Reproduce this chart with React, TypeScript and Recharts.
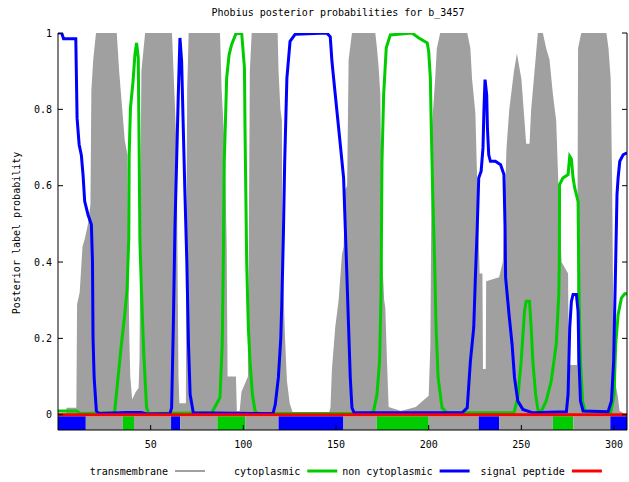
import { Area, ComposedChart, Line, ReferenceArea, XAxis, YAxis } from "recharts";

const mono = "'DejaVu Sans Mono', monospace";

const seqLength = 307;
const xTicks = [50, 100, 150, 200, 250, 300];
const yTicks = [0, 0.2, 0.4, 0.6, 0.8, 1];

// posterior probabilities, [residue, probability]
const transmembrane: [number, number][] = [
  [0, 0.005], [4.5, 0.005], [4.6, 0.018], [9.9, 0.018], [10.3, 0.29], [11.7, 0.32], [13.2, 0.44],
  [14.4, 0.46], [16.2, 0.5], [17.5, 0.55], [18, 0.85], [19, 0.93], [20.5, 1], [31.7, 1], [33, 0.9],
  [35, 0.78], [36, 0.72], [37.5, 0.68], [37.8, 0.45], [38.5, 0.2], [39, 0.1], [40, 0.04], [42, 0.06],
  [43.5, 0.07], [44, 0.15], [44.5, 0.6], [45, 0.9], [47, 1], [61.5, 1], [63, 0.82], [64, 0.69],
  [64.5, 0.4], [65, 0.1], [65.5, 0.03], [69, 0.03], [69.3, 0.5], [69.7, 0.85], [70.5, 1], [87.4, 1],
  [88.3, 0.85], [90, 0.69], [91, 0.45], [91.5, 0.1], [96, 0.1], [96.5, 0.01], [98, 0.01], [99, 0.06],
  [102.5, 0.1], [103, 0.5], [103.5, 0.9], [104.5, 1], [118.5, 1], [119, 0.9], [120, 0.8], [120.8, 0.77],
  [121, 0.5], [121.5, 0.35], [122.5, 0.2], [123.5, 0.09], [125, 0.03], [127, 0], [146, 0], [147, 0.018],
  [147.8, 0.12], [149.6, 0.23], [151.4, 0.3], [153.2, 0.42], [154.1, 0.44], [155, 0.59], [156, 0.6],
  [156.8, 0.93], [158.6, 1], [171.2, 1], [172.1, 0.96], [173, 0.91], [173.9, 0.84], [174.5, 0.6],
  [175, 0.4], [176, 0.3], [176.6, 0.28], [177.5, 0.14], [178.4, 0.02], [185, 0.01], [193, 0.02],
  [200, 0.05], [200.9, 0.18], [201.7, 0.75], [203.5, 0.88], [204.4, 0.96], [206.2, 1], [220.8, 1],
  [222.5, 0.96], [223.4, 0.88], [225.2, 0.79], [226.5, 0.55], [227.5, 0.37], [229, 0.37], [229.3, 0.12],
  [230.8, 0.12], [231, 0.35], [238, 0.36], [240, 0.4], [241, 0.55], [242, 0.7], [243.5, 0.8], [246, 0.9],
  [247.6, 0.946], [250, 0.88], [251.7, 0.77], [252.6, 0.71], [254.4, 0.71], [255.3, 0.8], [257.1, 0.9],
  [258.9, 1], [261.6, 1], [263.4, 0.96], [265.2, 0.93], [267, 0.84], [268.8, 0.77], [270, 0.6],
  [271.7, 0.4], [275.2, 0.37], [275.6, 0.13], [280, 0.13], [280.6, 0.96], [282.3, 1], [295.9, 1],
  [297, 0.96], [298.2, 0.88], [299, 0.6], [299.5, 0.3], [300, 0.1], [302, 0.05], [303, 0.01], [307, 0],
];

const cytoplasmic: [number, number][] = [
  [0, 0.01], [10, 0.01], [12, 0.003], [30, 0.005], [30.6, 0.01], [32.4, 0.097], [34.2, 0.184],
  [36, 0.262], [37.3, 0.33], [38.2, 0.463], [38.4, 0.681], [39.1, 0.804], [40.5, 0.874], [41.5, 0.943],
  [42.4, 0.974], [43.3, 0.935], [43.8, 0.681], [44.2, 0.455], [45.1, 0.315], [46.3, 0.158], [47.8, 0.018],
  [49, 0.003], [83, 0.005], [87.4, 0.045], [88.6, 0.184], [89.2, 0.4], [89.7, 0.664], [90.5, 0.795],
  [91, 0.882], [92.3, 0.943], [93.7, 0.97], [95.9, 0.997], [99.1, 1], [100.6, 0.908], [100.9, 0.751],
  [101.8, 0.4], [102.7, 0.228], [103.6, 0.14], [104.9, 0.053], [106.3, 0.01], [108, 0.003], [168, 0.003],
  [170.3, 0.01], [172.1, 0.053], [173.5, 0.14], [174.3, 0.315], [174.8, 0.664], [175.7, 0.838],
  [177.1, 0.961], [179.3, 0.995], [191, 1], [194.7, 0.987], [199.2, 0.974], [200, 0.952], [200.9, 0.882],
  [201.4, 0.751], [202.2, 0.577], [203.2, 0.402], [204, 0.228], [205.1, 0.097], [207.2, 0.018],
  [209.9, 0.005], [246, 0.005], [248.1, 0.045], [249.9, 0.14], [251.7, 0.271], [252.6, 0.297],
  [254.4, 0.297], [255.3, 0.228], [256.2, 0.14], [257.7, 0.053], [258.9, 0.014], [260.7, 0.008],
  [263.4, 0.036], [266.1, 0.088], [268.8, 0.184], [270.2, 0.315], [270.5, 0.402], [270.6, 0.603],
  [272.4, 0.62], [275.2, 0.629], [276.1, 0.677], [277, 0.67], [277.9, 0.62], [278.8, 0.594],
  [280.6, 0.559], [281.1, 0.315], [281.9, 0.14], [283, 0.036], [284.3, 0.01], [298.2, 0.005],
  [300, 0.053], [300.9, 0.184], [302.2, 0.262], [304, 0.306], [305.8, 0.317], [307, 0.317],
];

const nonCytoplasmic: [number, number][] = [
  [0, 1], [2, 1], [3, 0.985], [9.6, 0.985], [10.3, 0.777], [11.4, 0.708], [12.6, 0.68], [13.5, 0.629],
  [14.4, 0.559], [16.2, 0.524], [18, 0.498], [18.6, 0.403], [18.9, 0.202], [19.5, 0.097], [20.7, 0.01],
  [22, 0.003], [37, 0.006], [45, 0.006], [48, 0.002], [60.4, 0.003], [61.3, 0.018], [62.2, 0.228],
  [63.1, 0.49], [64, 0.664], [64.9, 0.838], [65.8, 0.987], [66.7, 0.926], [67.6, 0.751], [68.5, 0.577],
  [69.5, 0.402], [70.4, 0.184], [71.3, 0.053], [73, 0.005], [116, 0.003], [117.2, 0.026], [118.9, 0.097],
  [120.2, 0.2], [120.8, 0.3], [121.6, 0.47], [122.3, 0.66], [123.5, 0.882], [125.2, 0.978], [128, 0.997],
  [145, 1], [146.9, 0.99], [147.8, 0.926], [148.7, 0.882], [150.5, 0.795], [152.3, 0.708], [154.1, 0.62],
  [155, 0.49], [155.9, 0.36], [156.8, 0.228], [157.7, 0.097], [158.6, 0.018], [159.8, 0.005],
  [218, 0.005], [220.8, 0.018], [222.5, 0.14], [224.3, 0.228], [225.2, 0.36], [226.2, 0.49], [227, 0.62],
  [228.3, 0.638], [229.3, 0.699], [229.8, 0.795], [230.4, 0.878], [231.3, 0.838], [231.7, 0.751],
  [232.4, 0.681], [233.3, 0.664], [236, 0.664], [238.8, 0.655], [240.6, 0.629], [241.2, 0.49],
  [241.5, 0.36], [243.4, 0.26], [245, 0.184], [246.3, 0.097], [248.1, 0.036], [250.8, 0.014],
  [256.2, 0.005], [274.3, 0.008], [275.2, 0.053], [276.1, 0.228], [277, 0.297], [277.9, 0.315],
  [279.7, 0.315], [280.6, 0.271], [281.1, 0.14], [281.9, 0.036], [283.3, 0.01], [296.8, 0.008],
  [298.6, 0.036], [299.8, 0.14], [300.9, 0.402], [301.6, 0.577], [302.2, 0.62], [303.1, 0.664],
  [304.9, 0.681], [307, 0.686],
];

const signalPeptide: [number, number][] = [
  [0, 0],
  [307, 0],
];

// predicted topology strip under the zero line
const topoBounds = [0, 15, 35, 41, 61, 66, 86, 101, 119, 154, 172, 200, 227, 238, 267, 278, 298, 307];
const topoStates = ["nc", "tm", "c", "tm", "nc", "tm", "c", "tm", "nc", "tm", "c", "tm", "nc", "tm", "c", "tm", "nc"];

const colors: Record<string, string> = {
  tm: "#a0a0a0",
  c: "#00cc00",
  nc: "#0000ff",
  sp: "#ff0000",
};

const series = [
  { key: "tm", name: "transmembrane", points: transmembrane },
  { key: "c", name: "cytoplasmic", points: cytoplasmic },
  { key: "nc", name: "non cytoplasmic", points: nonCytoplasmic },
  { key: "sp", name: "signal peptide", points: signalPeptide },
];

function buildRows() {
  const rows = new Map<number, Record<string, number>>();
  for (const s of series) {
    for (const [x, y] of s.points) {
      const row = rows.get(x) ?? { x };
      row[s.key] = y;
      rows.set(x, row);
    }
  }
  return [...rows.values()].sort((a, b) => a.x - b.x);
}

const rows = buildRows();

// fixed to the window so body margin / scrollbars don't matter
const W = 629;
const H = 482;
const axisText = { fontSize: 10, fill: "#000", fontFamily: mono };
const blank = () => "";

export default function App() {
  return (
    <div style={{ position: "fixed", left: 0, top: 0, width: W, height: H, background: "#fff" }}>
      <ComposedChart width={W} height={H} data={rows} margin={{ top: 33, right: 0, bottom: 32, left: 13 }}>
        <XAxis
          dataKey="x"
          type="number"
          domain={[0, seqLength]}
          ticks={xTicks}
          interval={0}
          allowDataOverflow
          height={20}
          tickSize={-5}
          tickMargin={16}
          axisLine={{ stroke: "#000" }}
          tickLine={{ stroke: "#000" }}
          tick={axisText}
        />
        <XAxis
          xAxisId="top"
          orientation="top"
          dataKey="x"
          type="number"
          domain={[0, seqLength]}
          ticks={xTicks}
          interval={0}
          allowDataOverflow
          height={0}
          tickSize={-5}
          tickFormatter={blank}
          axisLine={{ stroke: "#000" }}
          tickLine={{ stroke: "#000" }}
        />
        <YAxis
          type="number"
          domain={[-0.04, 1]}
          ticks={yTicks}
          interval={0}
          allowDataOverflow
          width={45}
          tickSize={-5}
          tickMargin={11}
          axisLine={{ stroke: "#000" }}
          tickLine={{ stroke: "#000" }}
          tick={axisText}
        />
        <YAxis
          yAxisId="right"
          orientation="right"
          type="number"
          domain={[-0.04, 1]}
          ticks={yTicks}
          interval={0}
          allowDataOverflow
          width={2}
          tickSize={-5}
          tickFormatter={blank}
          axisLine={{ stroke: "#000" }}
          tickLine={{ stroke: "#000" }}
        />
        <Area
          dataKey="tm"
          type="linear"
          baseValue={0}
          stroke="none"
          fill={colors.tm}
          fillOpacity={1}
          connectNulls
          dot={false}
          activeDot={false}
          isAnimationActive={false}
        />
        {topoStates.map((state, i) => (
          <ReferenceArea
            key={i}
            x1={topoBounds[i]}
            x2={topoBounds[i + 1]}
            y1={-0.04}
            y2={-0.004}
            fill={colors[state]}
            fillOpacity={1}
            stroke="none"
          />
        ))}
        {series.slice(1).map((s) => (
          <Line
            key={s.key}
            dataKey={s.key}
            type="linear"
            stroke={colors[s.key]}
            strokeWidth={3}
            connectNulls
            dot={false}
            activeDot={false}
            isAnimationActive={false}
          />
        ))}
      </ComposedChart>
      <svg
        width={W}
        height={H}
        style={{ position: "absolute", left: 0, top: 0, pointerEvents: "none" }}
        fontFamily={mono}
        fontSize={10}
      >
        <text x={338} y={12} textAnchor="middle" dominantBaseline="central" fill="#000">
          Phobius posterior probabilities for b_3457
        </text>
        <text
          x={16}
          y={233}
          textAnchor="middle"
          dominantBaseline="central"
          fill="#000"
          transform="rotate(-90, 16, 233)"
        >
          Posterior label probability
        </text>
        {series.map((s, i) => {
          const right = 168 + 132.3 * i;
          return (
            <g key={s.key}>
              <text x={right} y={471} textAnchor="end" dominantBaseline="central" fill="#000">
                {s.name}
              </text>
              <line
                x1={right + 7}
                x2={right + 37}
                y1={471}
                y2={471}
                stroke={colors[s.key]}
                strokeWidth={s.key === "tm" ? 2 : 3}
              />
            </g>
          );
        })}
      </svg>
    </div>
  );
}
